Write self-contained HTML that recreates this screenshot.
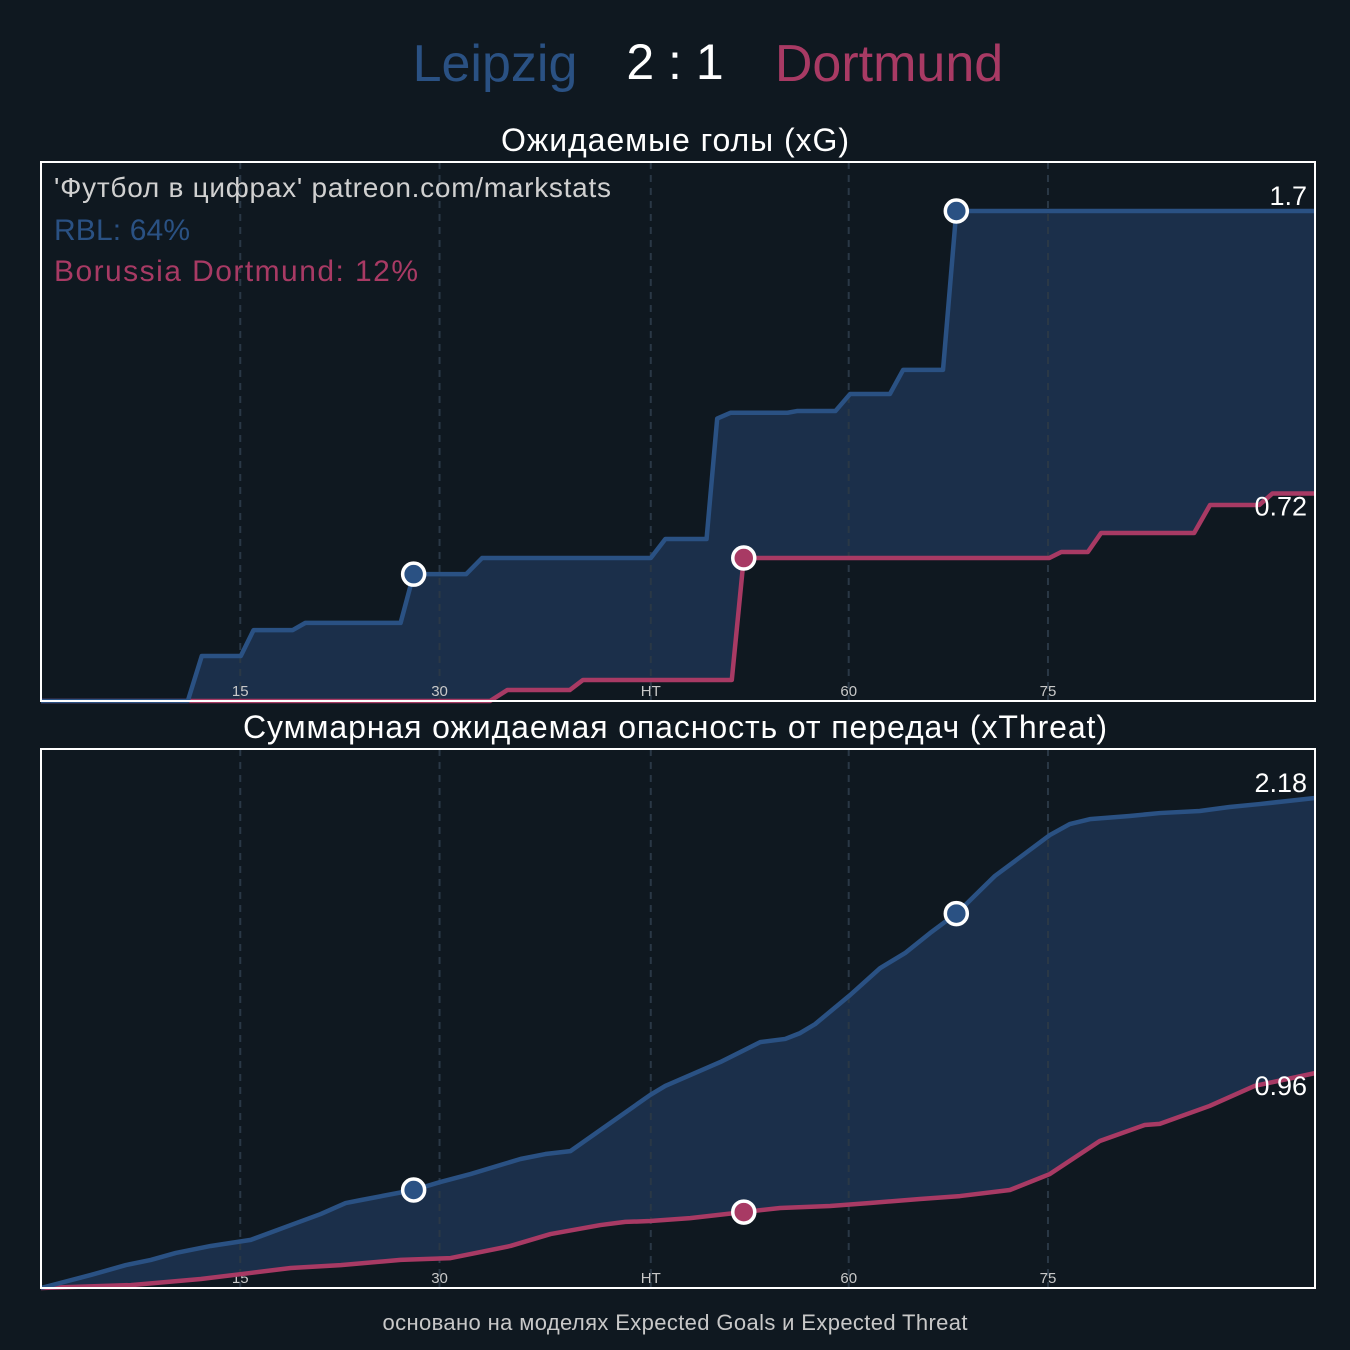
<!DOCTYPE html>
<html><head><meta charset="utf-8"><style>
html,body{margin:0;padding:0;background:#0f1820;}
svg{display:block;font-family:"Liberation Sans","DejaVu Sans",sans-serif;}
</style></head><body>
<svg id="chart" width="1350" height="1350" viewBox="0 0 1350 1350">
<rect x="0" y="0" width="1350" height="1350" fill="#0f1820"/>
<text x="495" y="81" font-size="52" fill="#2a5183" text-anchor="middle">Leipzig</text>
<text x="675" y="79" font-size="50" fill="#ffffff" text-anchor="middle">2 : 1</text>
<text x="889" y="81" font-size="52" fill="#a83a64" text-anchor="middle">Dortmund</text>
<text x="675" y="151" font-size="32" fill="#ffffff" text-anchor="middle" textLength="348">Ожидаемые голы (xG)</text>
<text x="675" y="738" font-size="32" fill="#ffffff" text-anchor="middle" textLength="864">Суммарная ожидаемая опасность от передач (xThreat)</text>
<text x="675" y="1330" font-size="22" fill="#c8c8c8" text-anchor="middle" textLength="585">основано на моделях Expected Goals и Expected Threat</text>
<g id="p1"></g>
<g id="p2"></g>
</svg>
<script>
const tickMinutes = [15, 30, 45.9, 60.8, 75.8];
const tickLabels = ["15", "30", "HT", "60", "75"];
const xgBlueT = [0,11.05,12.1,15.04,16.0,18.95,19.9,27.07,28.05,32.0,33.2,45.9,47.0,50.1,50.9,51.9,56.2,56.9,59.8,60.9,63.9,64.9,67.9,68.9,95.9];
const xgBlueV = [0,0,0.156,0.156,0.246,0.246,0.271,0.271,0.44,0.44,0.496,0.496,0.562,0.562,0.98,1.0,1.0,1.006,1.006,1.065,1.065,1.149,1.149,1.70,1.70];
const xgRedT = [0,33.8,35.1,39.8,40.8,52.0,52.9,75.9,76.8,78.8,79.8,86.8,88.0,91.7,92.7,95.9];
const xgRedV = [0,0,0.038,0.038,0.073,0.073,0.496,0.496,0.517,0.517,0.583,0.583,0.68,0.68,0.72,0.72];
const xtBlueT = [0,3.76,6.39,8.27,10.15,12.78,15.79,18.8,21.05,22.93,24.06,28.05,30.08,32.33,36.09,37.97,39.85,42.86,45.86,46.99,51.13,54.14,56.02,57.14,58.27,60.9,63.16,65.04,66.92,68.95,71.8,75.94,77.44,78.95,81.95,84.21,87.22,89.47,91.73,95.9];
const xtBlueV = [0,0.058,0.102,0.125,0.156,0.187,0.214,0.28,0.329,0.378,0.391,0.436,0.472,0.507,0.574,0.596,0.609,0.734,0.859,0.899,1.005,1.094,1.108,1.134,1.174,1.303,1.423,1.49,1.579,1.668,1.833,2.015,2.064,2.086,2.1,2.113,2.122,2.14,2.153,2.18];
const xtRedT = [0,6.77,12.03,15.79,18.8,22.56,27.07,30.83,35.34,38.35,42.11,43.98,45.86,48.87,52.93,55.64,59.4,62.41,66.17,69.17,72.93,75.94,79.7,83.08,84.21,87.97,91.35,95.9];
const xtRedV = [0,0.013,0.04,0.067,0.089,0.102,0.125,0.133,0.187,0.24,0.28,0.294,0.298,0.311,0.338,0.356,0.365,0.378,0.396,0.409,0.436,0.507,0.654,0.725,0.73,0.81,0.899,0.956];
const blueGoals = [28.05, 68.9];
const redGoals = [52.9];
const xgFinal = ["1.7", "0.72"];
const xtFinal = ["2.18", "0.96"];

const NS = "http://www.w3.org/2000/svg";
const BLUE = "#2a5183", RED = "#a83a64", FILL = "#1b2f4a";
const X0 = 41, X1 = 1315, TMAX = 95.9;
function xScale(t){ return X0 + (t / TMAX) * (X1 - X0); }
function mk(tag, attrs, parent){ const e = document.createElementNS(NS, tag); for (const k in attrs) e.setAttribute(k, attrs[k]); parent.appendChild(e); return e; }
function interp(T, V, t){ for (let i = 1; i < T.length; i++){ if (t <= T[i]) { const f = (t - T[i-1]) / (T[i] - T[i-1]); return V[i-1] + f * (V[i] - V[i-1]); } } return V[V.length-1]; }

function panel(g, top, bottom, vmax, bT, bV, rT, rV, finals, stat){
  const yScale = v => bottom - (v / vmax) * (bottom - top - 49);
  let pts = bT.map((t,i)=>xScale(t)+","+yScale(bV[i]));
  let rpts = rT.map((t,i)=>xScale(t)+","+yScale(rV[i]));
  const area = mk("polygon", {points: pts.concat(rpts.slice().reverse()).join(" "), fill:FILL}, g);
  
  
  for (let i = 0; i < tickMinutes.length; i++){
    const x = xScale(tickMinutes[i]);
    const ln = mk("line", {x1:x, x2:x, y1:top, y2:bottom, stroke:"#2a3846", "stroke-width":2, "stroke-dasharray":"7,6"}, g);
    
    
    const tx = mk("text", {x:x, y:bottom-5, "font-size":15, fill:"#c8c8c8", "text-anchor":"middle"}, g);
    tx.textContent = tickLabels[i];
    
    
  }
  const rl = mk("polyline", {points: rpts.join(" "), fill:"none", stroke:RED, "stroke-width":4.5, "stroke-linejoin":"round"}, g);
  
  
  const bl = mk("polyline", {points: pts.join(" "), fill:"none", stroke:BLUE, "stroke-width":4.5, "stroke-linejoin":"round"}, g);
  
  
  const fr = mk("rect", {x:X0, y:top, width:X1-X0, height:bottom-top, fill:"none", stroke:"#ffffff", "stroke-width":2}, g);
  
  
  blueGoals.forEach(t=>{
    const c = mk("circle", {cx:xScale(t), cy:yScale(interp(bT,bV,t)), r:11, fill:BLUE, stroke:"#ffffff", "stroke-width":3.5}, g);
    
    
  });
  redGoals.forEach(t=>{
    const c = mk("circle", {cx:xScale(t), cy:yScale(interp(rT,rV,t)), r:11, fill:RED, stroke:"#ffffff", "stroke-width":3.5}, g);
    
    
  });
  const l1 = mk("text", {x:1307, y:yScale(bV[bV.length-1])-6, "font-size":27, fill:"#ffffff", "text-anchor":"end"}, g);
  l1.textContent = finals[0];
  
  
  const l2 = mk("text", {x:1307, y:yScale(rV[rV.length-1])+22, "font-size":27, fill:"#ffffff", "text-anchor":"end"}, g);
  l2.textContent = finals[1];
  
  
}
panel(document.getElementById("p1"), 162, 701, 1.7, xgBlueT, xgBlueV, xgRedT, xgRedV, xgFinal, "xg");
panel(document.getElementById("p2"), 749, 1288, 2.18, xtBlueT, xtBlueV, xtRedT, xtRedV, xtFinal, "xt");

const g1 = document.getElementById("p1");
const a = mk("text", {x:54, y:197, "font-size":28, fill:"#d0d0d0", textLength:557}, g1);
a.textContent = "'Футбол в цифрах' patreon.com/markstats";


const b = mk("text", {x:54, y:240, "font-size":30, fill:BLUE, textLength:136}, g1);
b.textContent = "RBL: 64%";


const c = mk("text", {x:54, y:281, "font-size":30, fill:RED, textLength:364}, g1);
c.textContent = "Borussia Dortmund: 12%";


</script>
</body></html>
